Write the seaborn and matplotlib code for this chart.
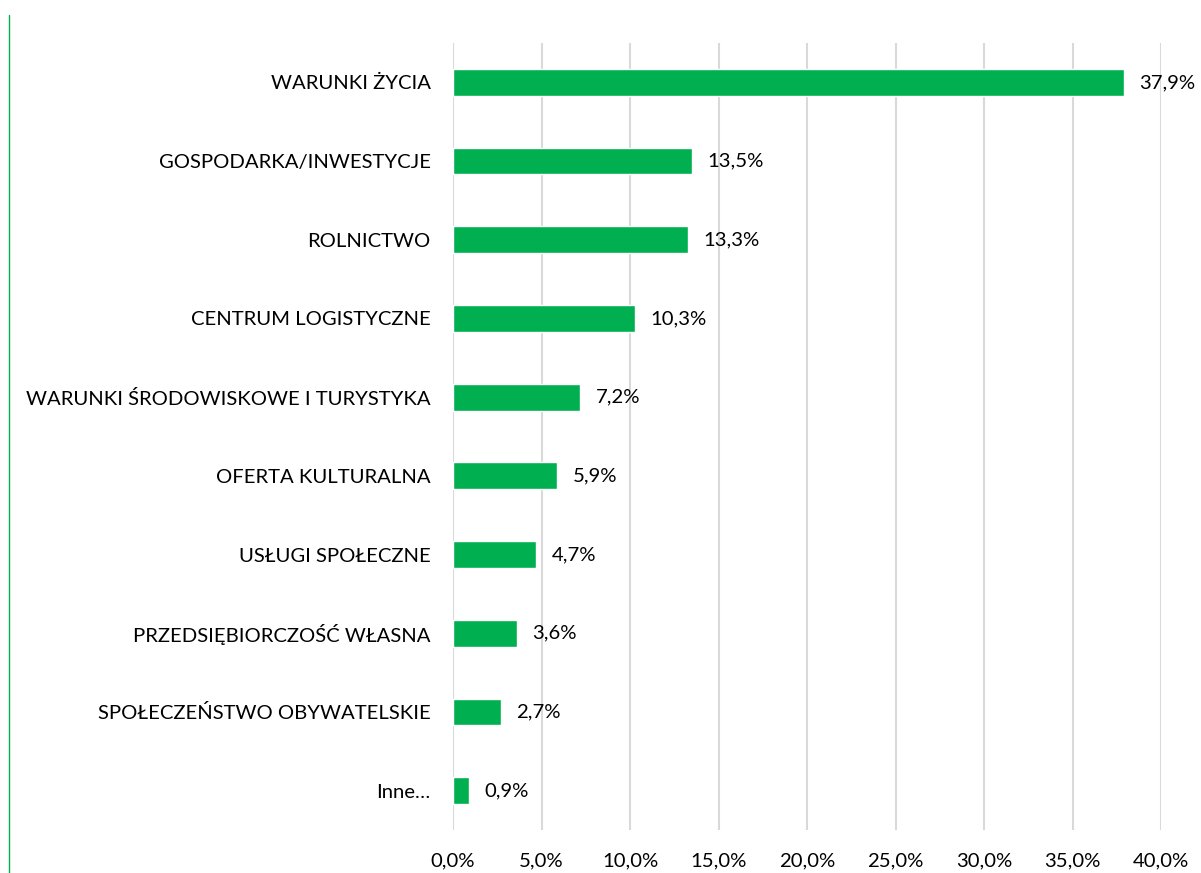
import matplotlib
matplotlib.use("Agg")
import matplotlib.pyplot as plt
from matplotlib.lines import Line2D
import seaborn as sns
import pandas as pd

categories = [
    "WARUNKI ŻYCIA",
    "GOSPODARKA/INWESTYCJE",
    "ROLNICTWO",
    "CENTRUM LOGISTYCZNE",
    "WARUNKI ŚRODOWISKOWE I TURYSTYKA",
    "OFERTA KULTURALNA",
    "USŁUGI SPOŁECZNE",
    "PRZEDSIĘBIORCZOŚĆ WŁASNA",
    "SPOŁECZEŃSTWO OBYWATELSKIE",
    "Inne…",
]
values = [37.9, 13.5, 13.3, 10.3, 7.2, 5.9, 4.7, 3.6, 2.7, 0.9]
xticks = [0, 5, 10, 15, 20, 25, 30, 35, 40]

df = pd.DataFrame({"kategoria": categories, "udzial": values})

sns.set_theme(style="white")
plt.rcParams["font.family"] = ["Lato", "DejaVu Sans"]

fig = plt.figure(figsize=(12.01, 8.73), dpi=100)
ax = fig.add_axes([0.3772, 0.0493, 0.9667 - 0.3772, 0.9507 - 0.0493])

sns.barplot(data=df, x="udzial", y="kategoria", color="#00B050",
            saturation=1, width=0.34, ax=ax, zorder=3)

ax.set_xlim(0, 40)
ax.set_ylim(9.5, -0.5)
ax.set_xticks(xticks)
ax.set_xticklabels([f"{t:.1f}%".replace(".", ",") for t in xticks])
ax.set_xlabel("")
ax.set_ylabel("")
ax.grid(axis="x", color="#D9D9D9", linewidth=1.5, zorder=0)
ax.grid(axis="y", visible=False)
for s in ax.spines.values():
    s.set_visible(False)
ax.tick_params(axis="both", length=0, labelsize=14.6, colors="#000000")
ax.tick_params(axis="x", pad=16)
ax.tick_params(axis="y", pad=16)

for i, v in enumerate(values):
    ax.annotate(f"{v:.1f}%".replace(".", ","), (v, i), xytext=(11, 0),
                textcoords="offset points", va="center", ha="left",
                fontsize=14.6, color="#000000")

fig.add_artist(Line2D([9 / 1201, 9 / 1201], [0, 1 - 15 / 873],
                      transform=fig.transFigure, color="#00B050", linewidth=1))

fig.savefig("out.png", dpi=100, facecolor="white")
